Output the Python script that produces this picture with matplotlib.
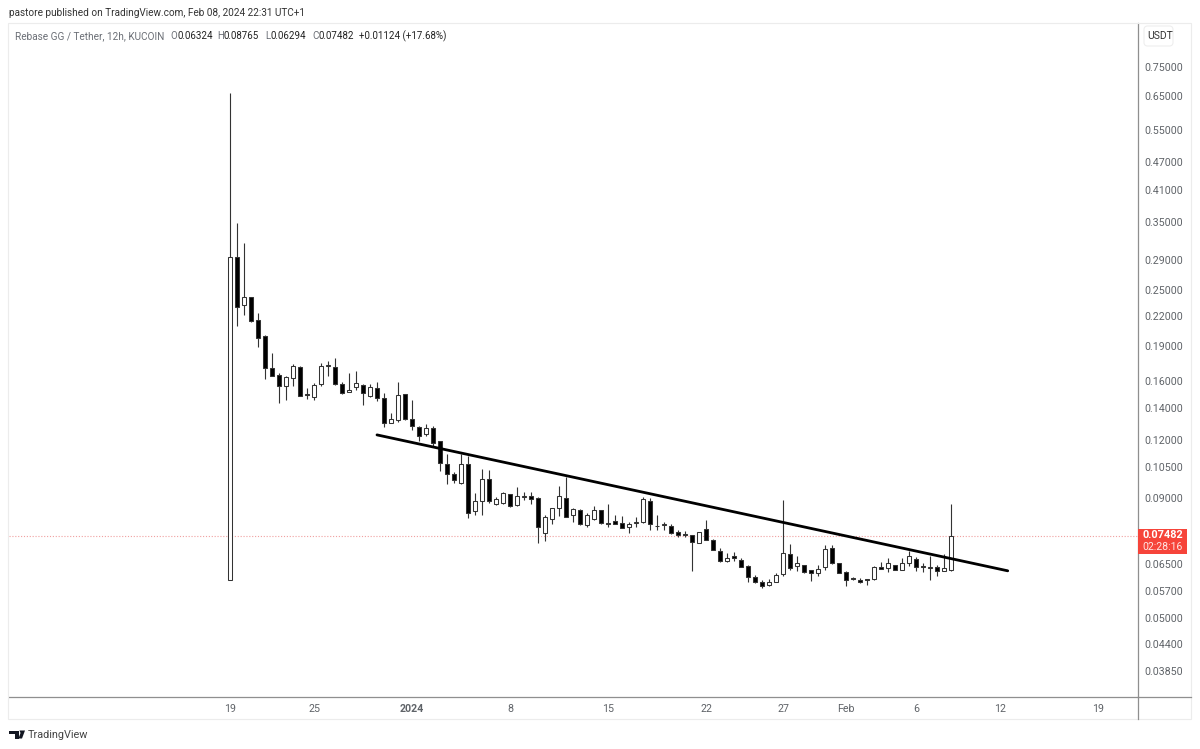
import matplotlib
matplotlib.use("Agg")
import matplotlib.pyplot as plt
from matplotlib.patches import Rectangle, Polygon, FancyBboxPatch

# 12h candles
opens = [.0603, .2947, .2330, .2418, .2161, .1999, .1706, .1648, .1564, .1622,
         .1718, .1505, .1480, .1576, .1724, .1718, .1577, .1521, .1552, .1573,
         .1488, .1544, .1474, .1306, .1322, .1505, .1329, .1279, .1237, .1270,
         .1193, .1065, .1015, .0970, .1067, .0844, .0889, .0988, .0877, .0881,
         .0918, .0869, .0907, .0909, .0901, .0759, .0811, .0860, .0899, .0829,
         .0850, .0789, .0811, .0848, .0797, .0805, .0797, .0780, .0796, .0800,
         .0886, .0786, .0790, .0785, .0763, .0754, .0752, .0723, .0773, .0733,
         .0695, .0661, .0676, .0665, .0645, .0612, .0596, .0587, .0596, .0621,
         .0684, .0646, .0647, .0632, .0624, .0643, .0706, .0654, .0625, .0607,
         .0603, .0604, .0604, .0643, .0638, .0647, .0632, .0654, .0668, .0644,
         .0639, .0643, .0630, .06324]
highs = [.660, .3488, .3162, .2420, .2234, .2005, .184, .1664, .1640, .1740,
         .1724, .1545, .1584, .1749, .1770, .1793, .1596, .1669, .1685, .1575,
         .1577, .1592, .1508, .1371, .1592, .1505, .1459, .1284, .1297, .1284,
         .1195, .1119, .1022, .1119, .1108, .0922, .1041, .1034, .0907, .0927,
         .0921, .0953, .0927, .0929, .0904, .0827, .0860, .0955, .0998, .0860,
         .0853, .0838, .0866, .0850, .0877, .0829, .0825, .0800, .0820, .0907,
         .0899, .0829, .0801, .0793, .0770, .0767, .0752, .0764, .0808, .0736,
         .0704, .0686, .0692, .0671, .0647, .0618, .0601, .0604, .0624, .0892,
         .0719, .0678, .0648, .0634, .0648, .0715, .0716, .0656, .0628, .0610,
         .0607, .0605, .0645, .0659, .0670, .0648, .0671, .0694, .0675, .0656,
         .0678, .0647, .0683, .08765]
lows = [.0603, .21, .2216, .2145, .1896, .1615, .1640, .1440, .1459, .1566,
        .1485, .1465, .1459, .1566, .1644, .1570, .1500, .1515, .1532, .1421,
        .1482, .1454, .1279, .1303, .1311, .1322, .1258, .1192, .1223, .1156,
        .1031, .0965, .0971, .0966, .0817, .0829, .0829, .0881, .0871, .0877,
        .0863, .0866, .0892, .0877, .0723, .0730, .0793, .0825, .0819, .0801,
        .0791, .0780, .0808, .0795, .0780, .0794, .0778, .0757, .0780, .0798,
        .0770, .0769, .0770, .0755, .0745, .0745, .0628, .0723, .0733, .0697,
        .0659, .0659, .0661, .0642, .0597, .0594, .0578, .0586, .0595, .0615,
        .0632, .0630, .0623, .0599, .0613, .0632, .0653, .0624, .0584, .0601,
        .0592, .0587, .0603, .0635, .0625, .0631, .0631, .0645, .0628, .0625,
        .0603, .0613, .0629, .06294]
closes = [.2947, .2309, .2418, .2150, .1982, .1706, .1644, .1564, .1635, .1724,
          .1490, .1497, .1573, .1724, .1732, .1576, .1508, .1533, .1587, .1508,
          .1552, .1474, .1300, .1327, .1493, .1327, .1287, .1223, .1270, .1183,
          .1072, .1015, .0983, .1067, .0838, .0889, .0988, .0889, .0896, .0922,
          .0865, .0912, .0910, .0896, .0781, .0819, .0857, .0909, .0820, .0853,
          .0793, .0829, .0848, .0797, .0794, .0794, .0778, .0795, .0800, .0896,
          .0792, .0784, .0794, .0760, .0750, .0751, .0725, .0763, .0733, .0698,
          .0660, .0670, .0670, .0643, .0612, .0597, .0585, .0596, .0618, .0686,
          .0640, .0654, .0625, .0622, .0635, .0700, .0654, .0624, .0601, .0604,
          .0597, .0601, .0643, .0636, .0655, .0632, .0654, .0676, .0642, .0642,
          .0643, .0630, .0638, .07482]

price_ticks = [.75, .65, .55, .47, .41, .35, .29, .25, .22, .19, .16, .14, .12,
               .105, .09, .065, .057, .05, .044, .0385]
date_ticks = [0, 12, 26, 40, 54, 68, 79, 88, 98, 110, 124]
date_labels = ['19', '25', '2024', '8', '15', '22', '27', 'Feb', '6', '12', '19']
trend_x = [21, 111.1]
trend_y = [.1229, .0630]
last_price = .07482

W, H = 1200, 749
GREY = '#5f6368'
FRAME = '#ececec'
AXIS = '#8f8f8f'
plt.rcParams['font.family'] = ['Roboto', 'DejaVu Sans']

fig = plt.figure(figsize=(W / 100, H / 100), dpi=100)


def fx(x):
    return x / W


def fy(y):
    return 1 - y / H


# chart pane, pixel box 9..1138 x 23..697
ax = fig.add_axes([fx(9), fy(697), (1138 - 9) / W, (697 - 23) / H])
ax.set_yscale('log')
ax.set_xlim(-31.57, 129.71)
ax.set_ylim(.03388, .931)

xs = list(range(len(opens)))
ax.vlines(xs, lows, highs, color='#333333', lw=0.8, zorder=2)
for i in xs:
    up = closes[i] >= opens[i]
    bottom = min(opens[i], closes[i])
    height = abs(closes[i] - opens[i])
    ax.bar(i, height, bottom=bottom, width=0.58,
           facecolor='white' if up else 'black', edgecolor='#333333',
           lw=0.75, zorder=3)

ax.axhline(last_price, color='#f0a0a0', lw=0.8, ls=(0, (1, 1.6)), zorder=1)
ax.plot(trend_x, trend_y, color='black', lw=2.0, zorder=4, solid_capstyle='round')

ax.yaxis.tick_right()
ax.set_yticks(price_ticks)
ax.set_yticklabels(['%.5f' % p for p in price_ticks])
ax.set_xticks(date_ticks)
ax.set_xticklabels(date_labels)
ax.tick_params(axis='y', length=0, pad=4.5, labelsize=7.7, labelcolor=GREY)
ax.tick_params(axis='x', length=0, pad=5, labelsize=7.7, labelcolor=GREY)
ax.get_xticklabels()[2].set_fontweight('bold')
ax.minorticks_off()

for side in ['top', 'left']:
    ax.spines[side].set_visible(False)
for side in ['right', 'bottom']:
    ax.spines[side].set_color(AXIS)
    ax.spines[side].set_linewidth(0.9)

# outer frame of the widget
fig.add_artist(Rectangle((fx(8), fy(719)), (1191 - 8) / W, (719 - 23) / H, fill=False,
                         edgecolor=FRAME, lw=0.8, transform=fig.transFigure))
fig.add_artist(plt.Line2D([fx(1138), fx(1138)], [fy(697), fy(719)], color=AXIS, lw=0.9))
fig.add_artist(plt.Line2D([fx(1138), fx(1191)], [fy(697), fy(697)], color=AXIS, lw=0.9))

# header and legend line
fig.text(fx(9), fy(13), 'pastore published on TradingView.com, Feb 08, 2024 22:31 UTC+1',
         fontsize=7.2, color='#333333', va='center')
fig.text(fx(15), fy(36), 'Rebase GG / Tether, 12h, KUCOIN', fontsize=7.2, color='#6b6f76', va='center')
fig.text(fx(170), fy(36), 'O', fontsize=7, color='#6b6f76', va='center')
fig.text(fx(177), fy(36), '0.06324', fontsize=7, color='#222222', va='center')
fig.text(fx(217.5), fy(36), 'H', fontsize=7, color='#6b6f76', va='center')
fig.text(fx(223.5), fy(36), '0.08765', fontsize=7, color='#222222', va='center')
fig.text(fx(265.5), fy(36), 'L', fontsize=7, color='#6b6f76', va='center')
fig.text(fx(270.5), fy(36), '0.06294', fontsize=7, color='#222222', va='center')
fig.text(fx(312.5), fy(36), 'C', fontsize=7, color='#6b6f76', va='center')
fig.text(fx(318.5), fy(36), '0.07482', fontsize=7, color='#222222', va='center')
fig.text(fx(359), fy(36), '+0.01124 (+17.68%)', fontsize=7, color='#222222', va='center')

# currency button
fig.add_artist(FancyBboxPatch((fx(1144), fy(46)), 29 / W, 20 / H,
                              boxstyle='round,pad=0,rounding_size=0.003',
                              facecolor='white', edgecolor='#eeeeee', lw=0.8,
                              mutation_aspect=W / H, transform=fig.transFigure))
fig.text(fx(1160), fy(36), 'USDT', fontsize=7.5, color='#333333', va='center', ha='center')

# last price tag
fig.add_artist(Rectangle((fx(1138), fy(554)), 49 / W, 25 / H, facecolor='#f6443a',
                         edgecolor='none', transform=fig.transFigure, zorder=5))
fig.text(fx(1163), fy(535.5), '0.07482', fontsize=7.8, color='white', weight='bold',
         va='center', ha='center', zorder=6)
fig.text(fx(1163), fy(547.5), '02:28:16', fontsize=7.6, color='#ffe5e3',
         va='center', ha='center', zorder=6)

# logo
logo_t = [(9, 730.5), (18.5, 730.5), (18.5, 738.5), (14.5, 738.5), (14.5, 734), (9, 734)]
logo_v = [(19.5, 730.5), (25, 730.5), (22, 738.5), (18.5, 738.5), (20.5, 733)]
for shape in [logo_t, logo_v]:
    fig.add_artist(Polygon([(fx(a), fy(b)) for a, b in shape], closed=True, facecolor='#131722',
                           edgecolor='none', transform=fig.transFigure))
fig.text(fx(28), fy(734.5), 'TradingView', fontsize=7.8, color='#444444', va='center')

fig.savefig('out.png', dpi=100)
